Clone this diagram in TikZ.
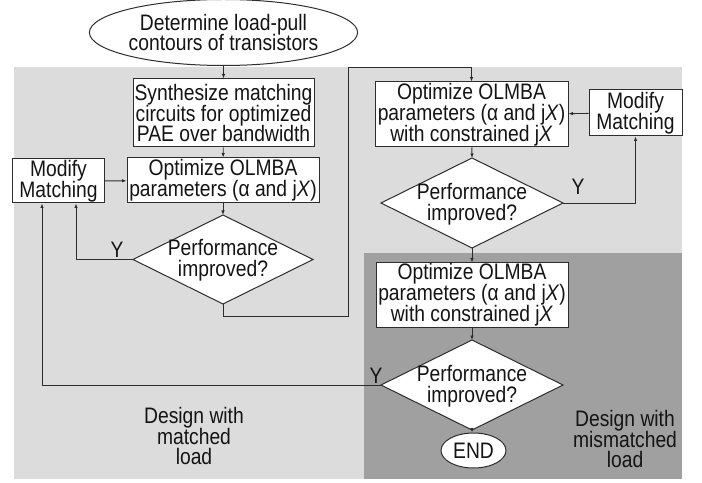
\documentclass[tikz,border=0pt]{standalone}
\usepackage{fontspec}
\setmainfont[FakeStretch=0.86]{Liberation Sans}
\usetikzlibrary{shapes.geometric,arrows.meta}
\definecolor{lightbg}{RGB}{220,220,220}
\definecolor{darkbg}{RGB}{160,160,160}
\definecolor{ln}{RGB}{45,45,45}
\newcommand\mydiamond[5]{%
  \coordinate (#1l) at (#2-#4,#3);
  \coordinate (#1r) at (#2+#4,#3);
  \coordinate (#1t) at (#2,#3-#5);
  \coordinate (#1b) at (#2,#3+#5);
  \draw[plain,fill=white] (#1l)--(#1t)--(#1r)--(#1b)--cycle;
  \node[txt] (#1) at (#2,#3+1) {Performance\\improved?};}
\begin{document}
\begin{tikzpicture}[x=1bp,y=-1bp,
  txt/.style={font=\fontsize{22.5}{21}\selectfont,align=center,text=black!92,inner sep=0pt},
  procbox/.style={txt,draw=ln,fill=white,line width=1bp},
  plain/.style={draw=ln,line width=1bp},
  conn/.style={draw=ln,line width=0.9bp,-{Latex[length=4.5bp,width=3.5bp]}},
  bglight/.style={fill=lightbg,draw=none},
  bgdark/.style={fill=darkbg,draw=none}]
\useasboundingbox (0,0) rectangle (702,483);
\fill[bglight] (14,67) rectangle (682,479);
\fill[bgdark] (364,253) rectangle (682,479);

\node[procbox,ellipse,minimum width=227bp,minimum height=66bp] (e1) at (223.5,32.5) {Determine load-pull\\contours of transistors};
\node[procbox,minimum width=181bp,minimum height=68bp] (b1) at (223.5,113) {Synthesize matching\\circuits for optimized\\PAE over bandwidth};
\node[procbox,minimum width=192bp,minimum height=45bp] (b2) at (223,180.5) {Optimize OLMBA\\parameters (α and j\textit{X})};
\node[procbox,minimum width=91bp,minimum height=44bp] (mm1) at (58.5,181) {Modify\\Matching};
\mydiamond{d1}{223}{259.5}{90}{44.5}

\node[procbox,minimum width=193bp,minimum height=65bp] (b3) at (471.5,114.5) {Optimize OLMBA\\parameters (α and j\textit{X})\\with constrained j\textit{X}};
\node[procbox,minimum width=93bp,minimum height=46bp] (mm2) at (635.5,113) {Modify\\Matching};
\mydiamond{d2}{472}{203}{91}{45}

\node[procbox,minimum width=192bp,minimum height=64bp] (b4) at (472,295) {Optimize OLMBA\\parameters (α and j\textit{X})\\with constrained j\textit{X}};
\mydiamond{d3}{472}{385}{91}{45}
\node[procbox,ellipse,minimum width=65bp,minimum height=35bp] (end) at (473.5,450.5) {END};

\coordinate (c1) at (348,316);
\coordinate (c2) at (348,67);

\draw[conn] (e1) -- (b1);
\draw[conn] (b1) -- (b2);
\draw[conn] (b2) -- (d1t);
\draw[conn] (mm1) -- (b2);
\draw[conn] (d1l) -| ([xshift=17.5bp]mm1.south);
\draw[conn] (d1b) |- (c1) -- (c2) -| (b3.north);
\draw[conn] (mm2) -- (b3);
\draw[conn] (b3) -- (d2t);
\draw[conn] (d2r) -| (mm2.south);
\draw[conn] (d2b) -- (b4);
\draw[conn] (b4) -- (d3t);
\draw[conn] (d3b) -- (end);
\draw[conn] (d3l) -| ([xshift=-16.5bp]mm1.south);

\node[txt] (y1) at (117,250) {Y};
\node[txt] (y2) at (578,187) {Y};
\node[txt] (y3) at (376,376) {Y};

\node[txt] (lab1) at (194,436) {Design with\\matched\\load};
\node[txt] (lab2) at (625,439) {Design with\\mismatched\\load};
\end{tikzpicture}
\end{document}
